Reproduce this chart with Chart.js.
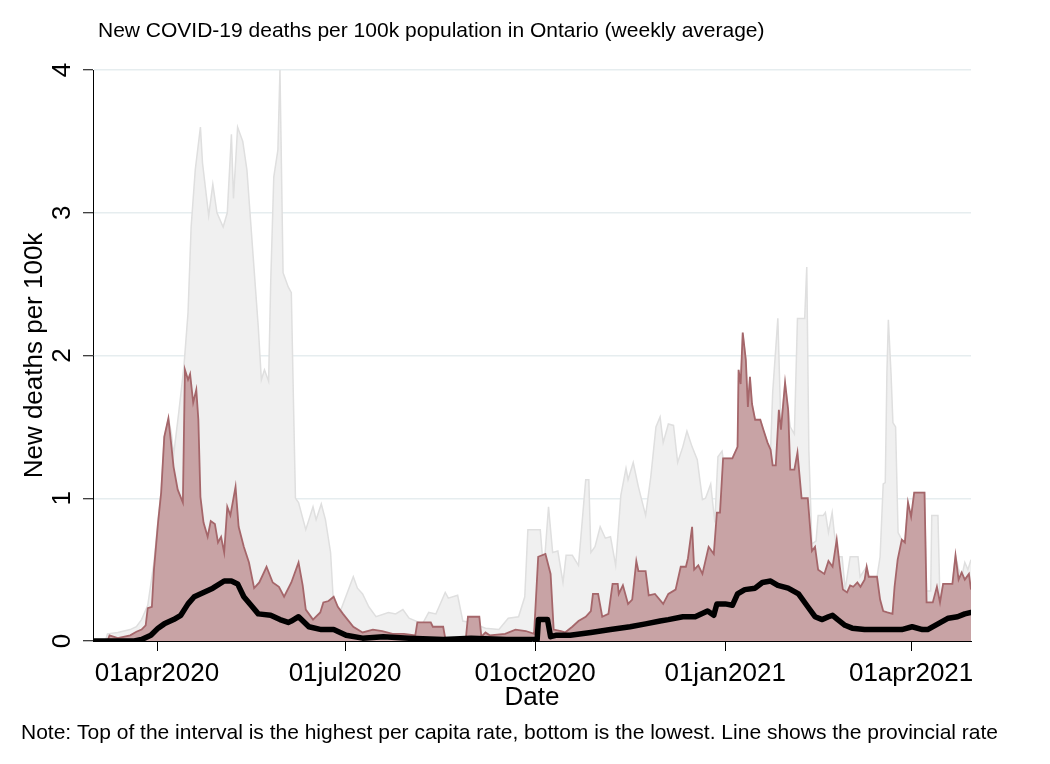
<!DOCTYPE html>
<html><head><meta charset="utf-8">
<script src="https://cdn.jsdelivr.net/npm/chart.js@4"></script>
<style>html,body{margin:0;padding:0;background:#fff}#wrap{width:1050px;height:764px}</style>
</head><body><div id="wrap"><canvas id="c" width="1050" height="764"></canvas></div>
<script>
// x values are days since 01mar2020
const xTickDays = [31, 122, 214, 306, 396];
const xTickLabels = ['01apr2020', '01jul2020', '01oct2020', '01jan2021', '01apr2021'];
const yTickValues = [0, 1, 2, 3, 4];
const titleText = 'New COVID-19 deaths per 100k population in Ontario (weekly average)';
const yTitle = 'New deaths per 100k';
const xTitle = 'Date';
const noteText = 'Note: Top of the interval is the highest per capita rate, bottom is the lowest. Line shows the provincial rate';

// grey band (upper edge)
const greyBand = [[0,0],[6,0],[7,0.05],[12,0.06],[18,0.08],[21,0.1],[23.5,0.15],[26.5,0.25],[29.5,0.55],[31.5,0.85],[33,1.05],[34.5,1.43],[36.5,1.56],[38,1.45],[39,1.3],[41.5,1.6],[44,1.92],[46,2.3],[47.5,2.9],[49.5,3.3],[52,3.6],[53,3.35],[56,2.98],[58,3.2],[60,3.0],[63,2.9],[65,3.0],[67,3.55],[68,3.1],[70,3.6],[72.5,3.5],[74.5,3.3],[77.5,2.7],[80,2.2],[81.5,1.83],[83,1.9],[85,1.82],[86,2.5],[87.5,3.25],[89.5,3.44],[90.5,4.0],[92,2.58],[94.5,2.48],[96,2.44],[97,1.7],[98,1.0],[99.5,0.97],[103,0.78],[106.5,0.94],[108,0.85],[110.5,0.96],[112.5,0.85],[115,0.62],[116.5,0.24],[119.5,0.2],[126,0.45],[128,0.37],[130.5,0.33],[133.5,0.24],[137,0.17],[143,0.2],[146.5,0.19],[150,0.22],[153,0.16],[159.5,0.12],[162.5,0.2],[166,0.19],[167.5,0.24],[170.5,0.34],[172,0.3],[176.5,0.32],[179,0.14],[182.5,0.13],[190,0.09],[196.5,0.08],[201,0.16],[206,0.17],[209,0.31],[210.5,0.78],[216.5,0.78],[217.5,0.6],[218.5,0.55],[220.5,0.94],[222.5,0.62],[225,0.63],[227.5,0.41],[229,0.6],[232,0.6],[235,0.53],[238.5,1.13],[240,1.13],[241,0.62],[243,0.66],[245.5,0.8],[248,0.72],[250.5,0.73],[253,0.53],[255.5,1.02],[258,1.21],[259,1.13],[261.5,1.25],[264,1.08],[267.5,0.88],[270,1.15],[272.5,1.5],[274.5,1.57],[276,1.39],[278.5,1.52],[281,1.51],[283,1.25],[285.5,1.36],[287.5,1.47],[290,1.36],[292.5,1.27],[295,0.99],[296.5,1.0],[299,1.1],[301,0.83],[302.5,1.29],[304.5,1.33],[305,1.28],[309.5,1.28],[312,1.36],[312.5,1.9],[313.5,1.8],[314.5,2.16],[316,1.97],[317,1.64],[318,1.85],[319,1.66],[320.5,1.55],[323,1.55],[324.5,1.48],[326.5,1.39],[328,1.34],[329,1.74],[331.5,2.26],[333,1.5],[335,1.81],[336.5,1.62],[337.5,1.5],[339.5,1.45],[341,2.26],[344.5,2.26],[345.5,2.62],[346.5,1.34],[348,0.68],[350,0.7],[351,0.88],[353.5,0.88],[354.5,0.9],[356,0.76],[357.8,0.9],[358.8,0.76],[360.7,0.59],[362.6,0.59],[364.1,0.36],[366.5,0.59],[370.3,0.59],[371.3,0.45],[374.5,0.52],[375.5,0.45],[379.5,0.45],[381,0.59],[382.5,1.1],[383.5,1.11],[384.3,1.88],[385,2.25],[386.3,1.87],[387.2,1.53],[388.5,1.5],[389.7,0.76],[391.5,0.71],[393,0.69],[394.5,0.97],[396,0.87],[397.5,1.04],[402.5,1.04],[403.5,0.35],[405.5,0.35],[406,0.88],[409,0.88],[410,0.27],[411.5,0.4],[416,0.4],[417.5,0.6],[419,0.5],[420.5,0.45],[422,0.55],[423.5,0.5],[425,0.57]];

// red band (upper edge)
const redBand = [[0,0],[7,0],[8,0.04],[12,0.02],[18,0.04],[21,0.065],[23.5,0.08],[25.5,0.11],[26.5,0.23],[28.5,0.24],[29.5,0.5],[31.5,0.83],[33,1.04],[34.5,1.43],[36.5,1.56],[38,1.36],[39,1.22],[41,1.06],[43.5,0.97],[44.5,1.9],[46,1.83],[47,1.87],[48.5,1.67],[50,1.76],[51,1.55],[52,1.01],[53.5,0.83],[55.5,0.73],[57,0.84],[59,0.82],[60.5,0.69],[62,0.73],[63.5,0.62],[65,0.94],[66.5,0.88],[69,1.08],[70.5,0.8],[73,0.66],[75.5,0.55],[78,0.37],[80.5,0.41],[84,0.52],[87,0.41],[90,0.38],[92.5,0.31],[96,0.41],[99.5,0.55],[101.5,0.39],[103,0.22],[106.5,0.15],[110,0.2],[111.5,0.27],[114,0.28],[116.5,0.31],[118.5,0.24],[121,0.19],[126,0.1],[130.5,0.06],[135.5,0.08],[140,0.07],[145,0.05],[150.5,0.05],[156,0.04],[157,0.13],[163.5,0.13],[164.5,0.1],[169.5,0.1],[170.5,0.02],[180.5,0.02],[181.5,0.17],[187,0.17],[188,0.03],[190,0.06],[192,0.04],[199.5,0.05],[204.5,0.08],[209.5,0.07],[213.5,0.05],[215.5,0.59],[219,0.61],[221.5,0.47],[223,0.08],[226.5,0.07],[228.5,0.06],[232,0.1],[235,0.14],[238.5,0.17],[241,0.21],[242,0.33],[244.5,0.33],[246.5,0.17],[249.5,0.19],[251.5,0.4],[254,0.4],[254.5,0.33],[256.5,0.39],[259,0.26],[261,0.29],[263,0.56],[264,0.49],[267.5,0.49],[269,0.32],[272,0.33],[276,0.26],[278.5,0.33],[282,0.36],[284.5,0.52],[287,0.52],[288,0.58],[290,0.8],[291,0.5],[293,0.53],[295,0.47],[298,0.66],[300.5,0.61],[302,0.9],[303.5,0.9],[305,1.28],[309.5,1.28],[312,1.36],[312.5,1.9],[313.5,1.8],[314.5,2.16],[316,1.97],[317,1.64],[318,1.85],[319,1.66],[320.5,1.55],[323,1.55],[324.5,1.48],[326.5,1.39],[328,1.34],[329,1.23],[330.5,1.23],[332,1.62],[333,1.48],[335,1.81],[336.5,1.62],[337.5,1.2],[339.5,1.2],[341,1.32],[343,1.0],[346,1.0],[348,0.63],[349.5,0.66],[351,0.5],[354,0.47],[356,0.56],[358,0.52],[360,0.71],[361.5,0.52],[363,0.36],[365,0.34],[366.5,0.39],[368,0.38],[370,0.41],[371.5,0.38],[373.5,0.43],[374.5,0.52],[375.5,0.45],[379.5,0.45],[381,0.29],[382.5,0.21],[384.5,0.2],[387,0.19],[388,0.38],[389.5,0.57],[391.5,0.71],[393,0.69],[394.5,0.97],[396,0.87],[397.5,1.04],[402.5,1.04],[403.5,0.27],[406.5,0.27],[408.5,0.38],[410,0.27],[411.5,0.4],[416,0.4],[417.5,0.6],[419,0.43],[420.5,0.48],[422,0.43],[424,0.47],[425,0.36]];

// provincial rate
const provincialRate = [[0,0],[20,0],[23.5,0.01],[28,0.04],[31.5,0.09],[34.5,0.12],[39,0.15],[42.5,0.18],[46,0.26],[49,0.31],[53.5,0.34],[58,0.37],[63.5,0.42],[67,0.42],[70,0.4],[73,0.31],[76.5,0.25],[80,0.19],[86,0.18],[90.5,0.15],[94.5,0.13],[96,0.14],[99.5,0.17],[104.5,0.1],[110.5,0.08],[116.5,0.08],[122.5,0.04],[130.5,0.02],[140.5,0.03],[153,0.02],[169.5,0.01],[183,0.02],[200,0.01],[215,0.01],[215.6,0.15],[220,0.15],[221.5,0.03],[224,0.04],[231,0.04],[241,0.06],[250.5,0.08],[260,0.1],[267.5,0.12],[274.5,0.14],[278.5,0.15],[285.5,0.17],[291.5,0.17],[297.5,0.21],[300.5,0.18],[302,0.26],[306,0.26],[309.5,0.25],[312,0.33],[315.5,0.36],[320.5,0.37],[324,0.41],[328,0.42],[331.5,0.39],[336.5,0.37],[341.5,0.33],[346,0.24],[349.5,0.17],[353,0.15],[356,0.17],[358,0.18],[360.5,0.15],[364,0.11],[367.5,0.09],[373.5,0.08],[380,0.08],[386.5,0.08],[391.5,0.08],[396.5,0.1],[401.5,0.08],[404,0.08],[409,0.12],[414,0.16],[418.5,0.17],[422,0.19],[425,0.2]];

const FONT = '"Liberation Sans", Arial, sans-serif';
const toXY = arr => arr.map(p => ({x: p[0], y: p[1]}));

const textPlugin = {
  id: 'texts',
  afterDraw(chart) {
    const c = chart.ctx, ys = chart.scales.y, a = chart.chartArea;
    c.save();
    c.fillStyle = '#000';
    c.font = '21px ' + FONT; c.textAlign = 'left'; c.textBaseline = 'middle';
    c.fillText(titleText, 98, 31);
    c.font = '26px ' + FONT; c.textAlign = 'center'; c.textBaseline = 'middle';
    yTickValues.forEach(v => {
      c.save(); c.translate(63, ys.getPixelForValue(v)); c.rotate(-Math.PI / 2);
      c.fillText(String(v), 0, 0); c.restore();
    });
    c.save(); c.translate(35, (a.top + a.bottom) / 2); c.rotate(-Math.PI / 2);
    c.fillText(yTitle, 0, 0); c.restore();
    c.fillText(xTitle, (a.left + a.right) / 2, 698);
    c.font = '21px ' + FONT; c.textAlign = 'left';
    c.fillText(noteText, 21, 733);
    c.restore();
  }
};

new Chart(document.getElementById('c'), {
  type: 'line',
  data: { datasets: [
    { label: 'Provincial rate', data: toXY(provincialRate), borderColor: '#000', borderWidth: 5.5,
      pointRadius: 0, fill: false, borderJoinStyle: 'round', borderCapStyle: 'round' },
    { label: 'Interval', data: toXY(redBand), borderColor: '#a5666a', borderWidth: 1.8,
      backgroundColor: '#c8a3a5', fill: 'origin', pointRadius: 0 },
    { label: 'Range', data: toXY(greyBand), borderColor: '#dfdfdf', borderWidth: 1.5,
      backgroundColor: '#f0f0f0', fill: 'origin', pointRadius: 0 }
  ]},
  options: {
    responsive: false, animation: false, events: [],
    layout: { padding: { left: 0, right: 79, top: 70, bottom: 0 } },
    plugins: { legend: { display: false }, tooltip: { enabled: false }, title: { display: false } },
    scales: {
      x: { type: 'linear', min: 0, max: 425,
        afterBuildTicks: s => { s.ticks = xTickDays.map(v => ({ value: v })); },
        ticks: { callback: v => xTickLabels[xTickDays.indexOf(v)], font: { family: FONT, size: 26 },
          color: '#000', padding: 7, maxRotation: 0, minRotation: 0, autoSkip: false },
        grid: { drawOnChartArea: false, drawTicks: true, tickLength: 10, tickColor: '#000', tickWidth: 1 },
        border: { display: true, color: '#000', width: 1 },
        afterFit: s => { s.height = 123; } },
      y: { min: 0, max: 4,
        afterBuildTicks: s => { s.ticks = yTickValues.map(v => ({ value: v })); },
        ticks: { display: false },
        grid: { color: '#e6edef', lineWidth: 1.5, drawTicks: true, tickLength: 10, tickColor: '#000', tickWidth: 1 },
        border: { display: true, color: '#000', width: 1 },
        afterFit: s => { s.width = 93; } }
    }
  },
  plugins: [textPlugin]
});
</script></body></html>
